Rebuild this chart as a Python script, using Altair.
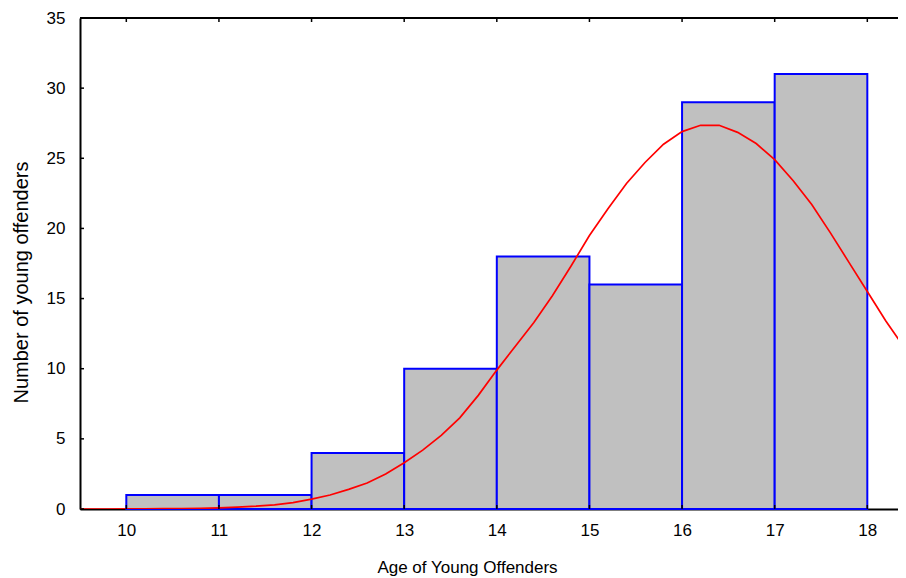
import altair as alt
import pandas as pd

# Histogram bins (age intervals) and counts
bin_start = [10, 11, 12, 13, 14, 15, 16, 17]
bin_end = [11, 12, 13, 14, 15, 16, 17, 18]
counts = [1, 1, 4, 10, 18, 16, 29, 31]

# Fitted normal curve
curve_age = [9.5, 9.6, 9.8, 10.0, 10.2, 10.4, 10.6, 10.8, 11.0, 11.2, 11.4, 11.6, 11.8,
             12.0, 12.2, 12.4, 12.6, 12.8, 13.0, 13.2, 13.4, 13.6, 13.8, 14.0, 14.2,
             14.4, 14.6, 14.8, 15.0, 15.2, 15.4, 15.6, 15.8, 16.0, 16.2, 16.4, 16.6,
             16.8, 17.0, 17.2, 17.4, 17.6, 17.8, 18.0, 18.2, 18.4, 18.6]
curve_count = [0.0, 0.0, 0.0, 0.01, 0.01, 0.02, 0.03, 0.05, 0.08, 0.13, 0.2, 0.3, 0.45,
               0.7, 1.0, 1.4, 1.85, 2.5, 3.3, 4.2, 5.25, 6.5, 8.1, 9.9, 11.6,
               13.3, 15.2, 17.3, 19.5, 21.4, 23.2, 24.7, 26.0, 26.9, 27.35, 27.35, 26.85,
               26.05, 24.9, 23.4, 21.7, 19.7, 17.6, 15.5, 13.4, 11.5, 9.6]

x_ticks = [10, 11, 12, 13, 14, 15, 16, 17, 18]
y_ticks = [0, 5, 10, 15, 20, 25, 30, 35]

W, H = 818, 491
FONT = "Liberation Sans"

bars_df = pd.DataFrame({"start": bin_start, "end": bin_end, "count": counts})
curve_df = pd.DataFrame({"age": curve_age, "count": curve_count})
xt_df = pd.DataFrame({"t": x_ticks})
yt_df = pd.DataFrame({"t": y_ticks})

x_scale = alt.Scale(domain=[9.5, 9.5 + W / 92.625], nice=False, zero=False)
y_scale = alt.Scale(domain=[0, 35], nice=False)

x_axis = alt.Axis(
    values=x_ticks, format="d", title="Age of Young Offenders", grid=False,
    ticks=False, tickSize=0, labelPadding=13, labelFont=FONT, labelFontSize=17,
    labelColor="black", domainColor="black", domainWidth=2,
    titleFont=FONT, titleFontSize=17, titleFontWeight="normal", titleColor="black",
    titleX=387, titleY=63, titleAlign="center", titleBaseline="alphabetic",
)
y_axis = alt.Axis(
    values=y_ticks, format="d", title="Number of young offenders", grid=False,
    ticks=False, tickSize=0, labelPadding=15, labelFont=FONT, labelFontSize=17,
    labelColor="black", domainColor="black", domainWidth=2,
    titleFont=FONT, titleFontSize=20, titleFontWeight="normal", titleColor="black",
    titleAngle=270, titleX=-53, titleY=264, titleAlign="center", titleBaseline="alphabetic",
)

bars = alt.Chart(bars_df).mark_rect(
    fill="#C0C0C0", stroke="#0000FF", strokeWidth=2
).encode(
    x=alt.X("start:Q", scale=x_scale, axis=x_axis),
    x2="end:Q",
    y=alt.Y("count:Q", scale=y_scale, axis=y_axis),
    y2=alt.datum(0),
)

curve = alt.Chart(curve_df).mark_line(
    color="#FF0000", strokeWidth=1.7, clip=True
).encode(
    x=alt.X("age:Q", scale=x_scale),
    y=alt.Y("count:Q", scale=y_scale),
)

top_border = alt.Chart(xt_df).mark_rule(color="black", strokeWidth=2).encode(
    x=alt.value(0), x2=alt.value(W), y=alt.value(0)
)

top_ticks = alt.Chart(xt_df).mark_rule(color="black", strokeWidth=1.5).encode(
    x=alt.X("t:Q", scale=x_scale), y=alt.value(0), y2=alt.value(4)
)

bottom_ticks = alt.Chart(xt_df).mark_rule(color="black", strokeWidth=1.5).encode(
    x=alt.X("t:Q", scale=x_scale), y=alt.value(H), y2=alt.value(H - 4)
)

left_ticks = alt.Chart(yt_df).mark_rule(color="black", strokeWidth=1.5).encode(
    y=alt.Y("t:Q", scale=y_scale), x=alt.value(0), x2=alt.value(4)
)

chart = alt.layer(bars, curve, top_border, top_ticks, bottom_ticks, left_ticks).properties(
    width=W, height=H,
    padding={"left": 72, "top": 10, "right": 0, "bottom": 68},
    autosize=alt.AutoSizeParams(type="none"),
    background="white",
).configure_view(stroke=None)

chart.save("out.html", embed_options={"renderer": "svg", "actions": False})
